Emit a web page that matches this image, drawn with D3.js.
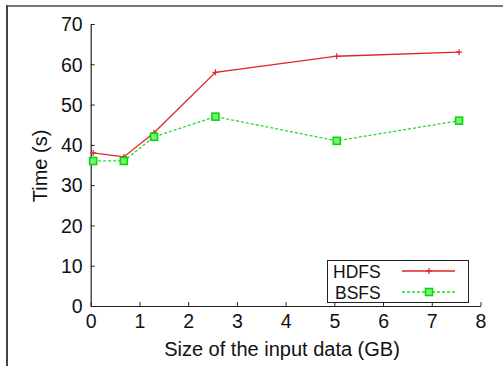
<!DOCTYPE html>
<html>
<head>
<meta charset="utf-8">
<script src="https://cdn.jsdelivr.net/npm/d3@7"></script>
<style>
  body { margin: 0; background: #fff; }
  text { font-family: "Liberation Sans", Arial, sans-serif; fill: #111; }
</style>
</head>
<body>
<svg id="chart" width="503" height="366"></svg>
<script>
// data
var sizes = [0.05, 0.68, 1.3, 2.56, 5.05, 7.56];
var hdfs = [38, 37, 43, 58, 62, 63];
var bsfs = [36, 36, 42, 47, 41, 46];
var xTicks = [0, 1, 2, 3, 4, 5, 6, 7, 8];
var yTicks = [0, 10, 20, 30, 40, 50, 60, 70];

var svg = d3.select('#chart');

// outer frame (cropped off on the right and bottom)
svg.append('line').attr('x1', 7).attr('x2', 503).attr('y1', 6).attr('y2', 6)
	.attr('stroke', '#777').attr('stroke-width', 2);
svg.append('line').attr('x1', 7).attr('x2', 7).attr('y1', 5).attr('y2', 366)
	.attr('stroke', '#444').attr('stroke-width', 2);

var x = d3.scaleLinear().domain([0, 8]).range([90.7, 480.5]);
var y = d3.scaleLinear().domain([0, 70]).range([306, 24]);

// axes, ticks pointing inward
var xAxis = svg.append('g').attr('transform', 'translate(0,306)')
	.call(d3.axisBottom(x).tickValues(xTicks).tickSizeInner(-4).tickSizeOuter(0).tickPadding(6));
var yAxis = svg.append('g').attr('transform', 'translate(90.7,0)')
	.call(d3.axisLeft(y).tickValues(yTicks).tickSizeInner(-4).tickSizeOuter(0).tickPadding(8));

[xAxis, yAxis].forEach(function (g) {
	g.select('.domain').attr('stroke', '#222').attr('stroke-width', 1.2);
	g.selectAll('.tick line').attr('stroke', '#222');
	g.selectAll('.tick text').style('font-family', '"Liberation Sans", Arial, sans-serif')
		.style('font-size', '19.5px').attr('fill', '#111');
});
xAxis.selectAll('.tick text').attr('dy', '0.8em');
yAxis.selectAll('.tick text').attr('dy', '0.35em');

svg.append('text').attr('x', 282).attr('y', 356).attr('text-anchor', 'middle')
	.style('font-size', '20px').text('Size of the input data (GB)');
svg.append('text').attr('transform', 'translate(47,166) rotate(-90)').attr('text-anchor', 'middle')
	.style('font-size', '20px').text('Time (s)');

var line = d3.line().x(function (d) { return x(d[0]); }).y(function (d) { return y(d[1]); });
var red = '#e02424', green = '#22dd22';

var hdfsPts = sizes.map(function (s, i) { return [s, hdfs[i]]; });
var bsfsPts = sizes.map(function (s, i) { return [s, bsfs[i]]; });

svg.append('path').datum(bsfsPts).attr('d', line).attr('fill', 'none')
	.attr('stroke', green).attr('stroke-width', 1.3).attr('stroke-dasharray', '3,2');
svg.append('path').datum(hdfsPts).attr('d', line).attr('fill', 'none')
	.attr('stroke', red).attr('stroke-width', 1.3);

function plus(g, cx, cy) {
	g.append('path').attr('d', 'M' + (cx - 3) + ',' + cy + 'H' + (cx + 3) + 'M' + cx + ',' + (cy - 3) + 'V' + (cy + 3))
		.attr('stroke', red).attr('stroke-width', 1.2);
}
function box(g, cx, cy) {
	g.append('rect').attr('x', cx - 3.5).attr('y', cy - 3.5).attr('width', 7).attr('height', 7)
		.attr('fill', '#7ef07e').attr('stroke', '#00dd00').attr('stroke-width', 1.6);
}

var marks = svg.append('g');
hdfsPts.forEach(function (d) { plus(marks, x(d[0]), y(d[1])); });
bsfsPts.forEach(function (d) { box(marks, x(d[0]), y(d[1])); });

// legend
var leg = svg.append('g');
leg.append('rect').attr('x', 327.5).attr('y', 260.5).attr('width', 141).attr('height', 42)
	.attr('fill', '#fff').attr('stroke', '#222').attr('stroke-width', 1);
leg.append('text').attr('x', 333).attr('y', 278).style('font-size', '17.5px').text('HDFS');
leg.append('text').attr('x', 335).attr('y', 299).style('font-size', '17.5px').text('BSFS');
leg.append('line').attr('x1', 402).attr('x2', 455).attr('y1', 271).attr('y2', 271)
	.attr('stroke', red).attr('stroke-width', 1.3);
plus(leg, 429, 271);
leg.append('line').attr('x1', 402).attr('x2', 455).attr('y1', 292).attr('y2', 292)
	.attr('stroke', green).attr('stroke-width', 1.3).attr('stroke-dasharray', '3,2');
box(leg, 429, 292);
</script>
</body>
</html>
